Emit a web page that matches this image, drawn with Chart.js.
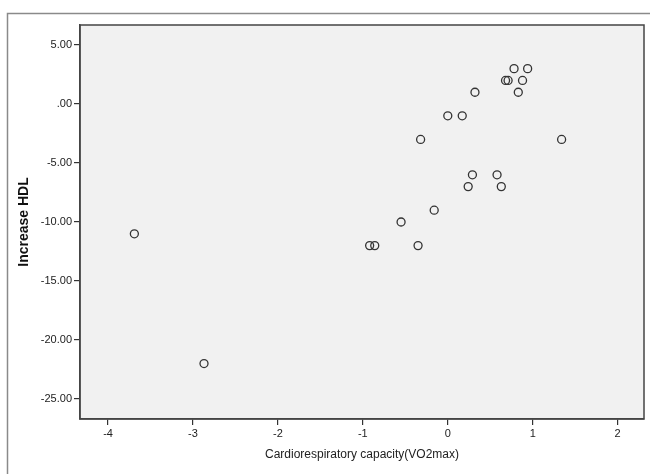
<!DOCTYPE html>
<html>
<head>
<meta charset="utf-8">
<script src="https://cdn.jsdelivr.net/npm/chart.js@4/dist/chart.umd.min.js"></script>
<style>
  html, body { margin: 0; padding: 0; background: #ffffff; }
  #wrap { width: 650px; height: 474px; position: relative; }
</style>
</head>
<body>
<div id="wrap"><canvas id="c" width="650" height="474"></canvas></div>
<script>
const vo2max = [0.78, 0.94, 0.68, 0.71, 0.88, 0.32, 0.83, 0.00, 0.17, -0.32, 1.34, 0.29, 0.58, 0.24, 0.63, -0.16, -0.55, -0.92, -0.86, -0.35, -3.69, -2.87];
const hdlIncrease = [3, 3, 2, 2, 2, 1, 1, -1, -1, -3, -3, -6, -6, -7, -7, -9, -10, -12, -12, -12, -11, -22];
const yTickValues = [5, 0, -5, -10, -15, -20, -25];
const xTickValues = [-4, -3, -2, -1, 0, 1, 2];

const points = vo2max.map((x, i) => ({ x: x, y: hdlIncrease[i] }));

const frame = {
  id: 'frame',
  beforeDraw(chart) {
    const ctx = chart.ctx, a = chart.chartArea;
    ctx.save();
    ctx.fillStyle = '#f1f1f1';
    ctx.fillRect(a.left, a.top, a.right - a.left, a.bottom - a.top);
    ctx.strokeStyle = '#8a8a8a';
    ctx.lineWidth = 1.5;
    ctx.beginPath();
    ctx.moveTo(7.5, 474);
    ctx.lineTo(7.5, 13.5);
    ctx.lineTo(650, 13.5);
    ctx.stroke();
    ctx.restore();
  },
  afterDraw(chart) {
    const ctx = chart.ctx, a = chart.chartArea;
    ctx.save();
    ctx.strokeStyle = '#444444';
    ctx.lineWidth = 1.5;
    ctx.strokeRect(a.left, a.top, a.right - a.left, a.bottom - a.top);
    ctx.restore();
  }
};

const tickFont = { family: '"Liberation Sans", Arial, sans-serif', size: 11 };

new Chart(document.getElementById('c'), {
  type: 'scatter',
  data: {
    datasets: [{
      data: points,
      pointStyle: 'circle',
      pointRadius: 4,
      pointHoverRadius: 4,
      pointBorderWidth: 1.3,
      borderColor: '#333333',
      backgroundColor: 'rgba(0,0,0,0)',
      showLine: false
    }]
  },
  options: {
    responsive: false,
    animation: false,
    devicePixelRatio: 1,
    layout: { padding: { top: 25, right: 6, left: 0, bottom: 0 } },
    plugins: { legend: { display: false }, tooltip: { enabled: false } },
    scales: {
      x: {
        type: 'linear',
        min: -4.33,
        max: 2.31,
        afterFit(s) { s.height = 55; },
        afterBuildTicks(s) { s.ticks = xTickValues.map(v => ({ value: v })); },
        ticks: { font: tickFont, color: '#222', padding: 2, callback: v => String(v) },
        grid: { drawOnChartArea: false, drawTicks: true, tickLength: 6, color: '#333', lineWidth: 1.2 },
        border: { display: true, color: '#444', width: 1.5 },
        title: {
          display: true,
          text: 'Cardiorespiratory capacity(VO2max)',
          font: { family: '"Liberation Sans", Arial, sans-serif', size: 12 },
          color: '#222',
          padding: { top: 0, bottom: 12 }
        }
      },
      y: {
        type: 'linear',
        min: -26.7,
        max: 6.7,
        afterFit(s) { s.width = 80; },
        afterBuildTicks(s) { s.ticks = yTickValues.map(v => ({ value: v })); },
        ticks: {
          font: tickFont, color: '#222', padding: 2,
          callback: v => {
            const s = Math.abs(v).toFixed(2);
            const t = (Math.abs(v) < 1 ? s.replace(/^0/, '') : s);
            return (v < 0 ? '-' : '') + t;
          }
        },
        grid: { drawOnChartArea: false, drawTicks: true, tickLength: 6, color: '#333', lineWidth: 1.2 },
        border: { display: true, color: '#444', width: 1.5 },
        title: {
          display: true,
          text: 'Increase HDL',
          font: { family: '"Liberation Sans", Arial, sans-serif', size: 14, weight: 'bold' },
          color: '#111',
          padding: { top: 16, bottom: 0 }
        }
      }
    }
  },
  plugins: [frame]
});
</script>
</body>
</html>
